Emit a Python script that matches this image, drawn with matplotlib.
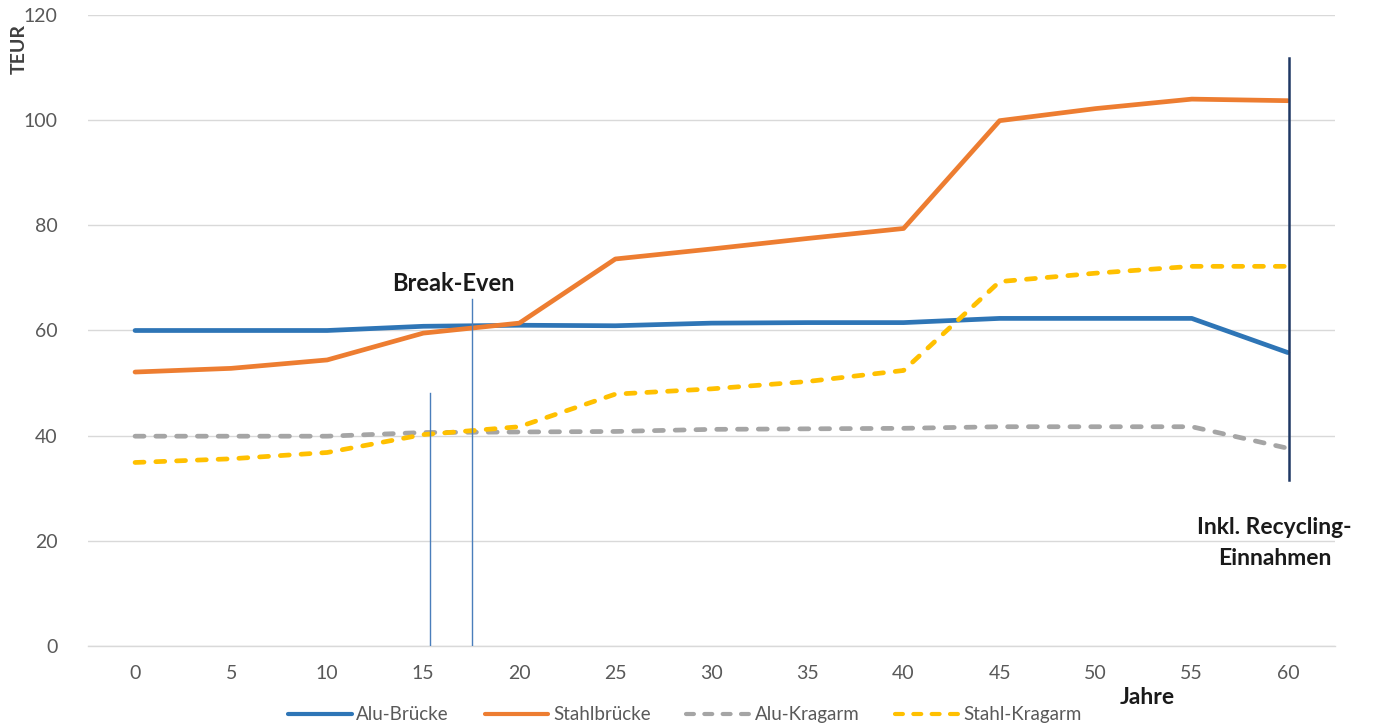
import matplotlib.pyplot as plt

# ==========================================
# DATA
# ==========================================
JAHRE = [0, 5, 10, 15, 20, 25, 30, 35, 40, 45, 50, 55, 60]

ALU_BRUECKE = [60.0, 60.0, 60.0, 60.8, 61.0, 60.9, 61.4, 61.5, 61.5, 62.3, 62.3, 62.3, 55.8]
STAHLBRUECKE = [52.1, 52.8, 54.4, 59.5, 61.4, 73.6, 75.5, 77.5, 79.4, 99.9, 102.2, 104.0, 103.7]
ALU_KRAGARM = [39.9, 39.9, 39.9, 40.6, 40.7, 40.8, 41.2, 41.3, 41.4, 41.7, 41.7, 41.7, 37.6]
STAHL_KRAGARM = [34.9, 35.6, 36.8, 40.2, 41.7, 47.9, 48.9, 50.3, 52.4, 69.3, 70.9, 72.2, 72.2]

SERIES = ["Alu-Brücke", "Stahlbrücke", "Alu-Kragarm", "Stahl-Kragarm"]
Y_TICKS = [0, 20, 40, 60, 80, 100, 120]

# marker lines: (x, y_bottom, y_top)
BREAK_EVEN_LINES = [(15.35, 0, 48.1), (17.55, 0, 66.0)]
RECYCLING_LINE = (60.05, 31.6, 111.8)

COLORS = {
    "Alu-Brücke": "#2e75b6",
    "Stahlbrücke": "#ed7d31",
    "Alu-Kragarm": "#a5a5a5",
    "Stahl-Kragarm": "#ffc000",
}

FONT = ["Lato", "DejaVu Sans"]
plt.rcParams["font.family"] = FONT

fig = plt.figure(figsize=(13.92, 7.27), dpi=100)
ax = fig.add_axes([0.0632, 0.1114, 0.8958, 0.868])

values = [ALU_BRUECKE, STAHLBRUECKE, ALU_KRAGARM, STAHL_KRAGARM]
for name, vals in zip(SERIES, values):
    if "Kragarm" in name:
        ax.plot(JAHRE, vals, color=COLORS[name], linewidth=3.4, label=name,
                dashes=(1.9, 2.5), dash_capstyle="round", zorder=3)
    else:
        ax.plot(JAHRE, vals, color=COLORS[name], linewidth=3.4, label=name,
                solid_capstyle="round", zorder=3)

# --- marker lines ---
for x, y0, y1 in BREAK_EVEN_LINES:
    ax.plot([x, x], [y0, y1], color="#4a7ebb", linewidth=1.0, zorder=4)
ax.plot([RECYCLING_LINE[0]] * 2, RECYCLING_LINE[1:], color="#1f3864",
        linewidth=1.8, zorder=4)

# --- annotations ---
ax.text(16.55, 69.0, "Break-Even", fontsize=17, fontweight="bold",
        ha="center", va="center", color="#1a1a1a")
ax.text(59.3, 19.6, "Inkl. Recycling-\nEinnahmen", fontsize=16.5, fontweight="bold",
        ha="center", va="center", color="#1a1a1a", linespacing=1.55)
ax.text(52.7, -9.8, "Jahre", fontsize=16.5, fontweight="bold",
        ha="center", va="center", color="#1a1a1a")
fig.text(0.0135, 0.933, "TEUR", rotation=90, fontsize=14, fontweight="bold",
         ha="center", va="center", color="#404040")

# --- axes formatting ---
ax.set_xlim(-2.45, 62.45)
ax.set_ylim(0, 120)
ax.set_xticks(JAHRE)
ax.set_yticks(Y_TICKS)
ax.tick_params(axis="both", length=0, labelsize=14, colors="#595959")
ax.tick_params(axis="x", pad=14)
ax.tick_params(axis="y", pad=22)
ax.grid(axis="y", color="#d9d9d9", linewidth=1.0)
ax.set_axisbelow(True)
for side in ["top", "right", "left"]:
    ax.spines[side].set_visible(False)
ax.spines["bottom"].set_color("#d9d9d9")
ax.spines["bottom"].set_linewidth(1.0)

leg = fig.legend(loc="lower center", bbox_to_anchor=(0.492, -0.018), ncol=4,
                 frameon=False, fontsize=13.5, handlelength=3.4, handletextpad=0.25,
                 columnspacing=1.9)
for t in leg.get_texts():
    t.set_color("#595959")
for h in leg.get_lines():
    h.set_linewidth(3.0)

fig.savefig("out.png", dpi=100)
